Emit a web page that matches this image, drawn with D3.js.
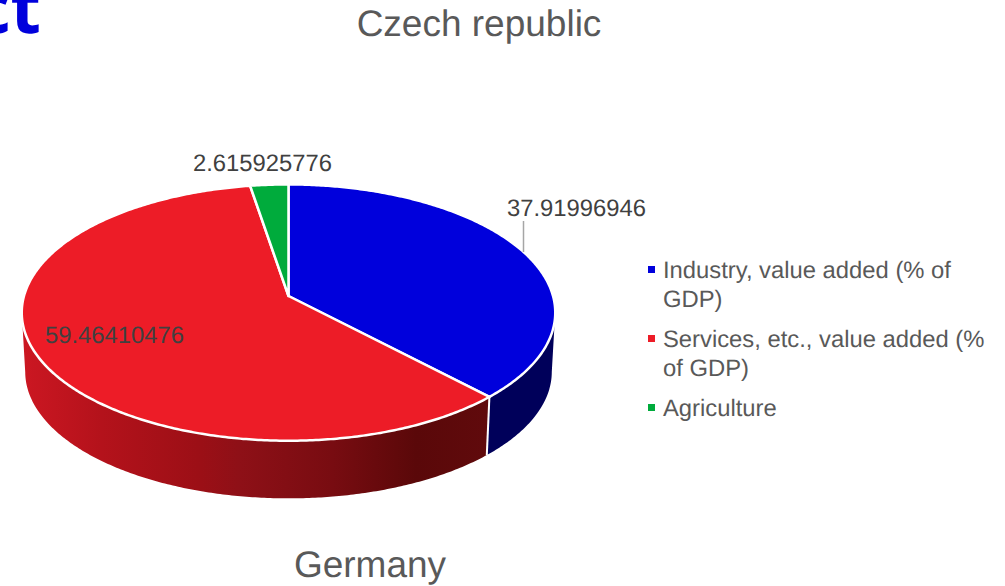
<!DOCTYPE html>
<html>
<head>
<meta charset="utf-8">
<script src="https://cdn.jsdelivr.net/npm/d3@7"></script>
<style>
	html,body{margin:0;padding:0;background:#fff;overflow:hidden}
	text{font-family:"Liberation Sans",Arial,sans-serif;text-rendering:geometricPrecision}
</style>
</head>
<body>
<div class="pie"></div>
<script>
const categories=['Industry, value added (% of GDP)','Services, etc., value added (% of GDP)','Agriculture']
const shares=[37.91996946,59.46410476,2.615925776]
const chartTitle='Czech republic'
const nextTitle='Germany'
const cutOffHeading='ct'

const width=1005,height=586
const color=d3.scaleOrdinal().domain(categories).range(['#0000dc','#ed1c27','#00ab3c'])

const svg=d3.select('.pie').append('svg')
	.attr('width',width)
	.attr('height',height)
	.style('display','block')

// tilted disc, the near side of it is drawn bigger
const disc={x:288.5,y:296,r:264.5,b:126,k:0.1295}
const wall={shrink:0.987,y:355.5}

function rimTop(a){
	const u=Math.sin(a),v=-Math.cos(a),w=1-disc.k*v
	return [disc.x+disc.r*u/w,disc.y+disc.b*v/w]
}
function rimBottom(a){
	const p=rimTop(a)
	return [disc.x+(p[0]-disc.x)*wall.shrink,wall.y+(p[1]-disc.y)*wall.shrink]
}
function arcAngles(a0,a1){
	const n=Math.max(2,Math.ceil(Math.abs(a1-a0)/0.01))
	return d3.range(n+1).map(i=>a0+(a1-a0)*i/n)
}

const pie=d3.pie().sort(null).value(d=>d.value)
const slices=pie(categories.map((c,i)=>({name:c,value:shares[i]})))
const line=d3.line()

const defs=svg.append('defs')
const grad=defs.append('linearGradient')
	.attr('id','redWall')
	.attr('gradientUnits','userSpaceOnUse')
	.attr('x1',22).attr('x2',486).attr('y1',0).attr('y2',0)
grad.append('stop').attr('offset','0%').attr('stop-color','#cc1722')
grad.append('stop').attr('offset','17%').attr('stop-color','#b4121b')
grad.append('stop').attr('offset','38%').attr('stop-color','#9c0f16')
grad.append('stop').attr('offset','47%').attr('stop-color','#8e1017')
grad.append('stop').attr('offset','67%').attr('stop-color','#780c11')
grad.append('stop').attr('offset','85%').attr('stop-color','#5a0809')
grad.append('stop').attr('offset','100%').attr('stop-color','#600a0c')

// side wall, only the front part of the disc shows it
const frontStart=Math.PI/2+0.13,frontEnd=Math.PI*1.5-0.13
const wallFill=['#00005a','url(#redWall)']
const walls=slices.slice(0,2).map((s,i)=>({
	a0:Math.max(s.startAngle,frontStart),
	a1:Math.min(s.endAngle,frontEnd),
	fill:wallFill[i]
}))

svg.selectAll('.wall')
	.data(walls)
	.enter()
	.append('path')
	.attr('class','wall')
	.attr('d',d=>{
		const angles=arcAngles(d.a0,d.a1)
		return line(angles.map(rimTop).concat(angles.slice().reverse().map(rimBottom)))+'Z'
	})
	.attr('fill',d=>d.fill)

svg.append('path')
	.attr('d',line([rimTop(slices[0].endAngle),rimBottom(slices[0].endAngle)]))
	.attr('stroke','#fff')
	.attr('stroke-width',2)

svg.selectAll('.slice')
	.data(slices)
	.enter()
	.append('path')
	.attr('class','slice')
	.attr('d',d=>line([[disc.x,disc.y]].concat(arcAngles(d.startAngle,d.endAngle).map(rimTop)))+'Z')
	.attr('fill',d=>color(d.data.name))
	.attr('stroke','#fff')
	.attr('stroke-width',2.5)
	.attr('stroke-linejoin','round')

// data labels
svg.append('line')
	.attr('x1',523.5).attr('x2',523.5)
	.attr('y1',221).attr('y2',252)
	.attr('stroke','#a6a6a6')
	.attr('stroke-width',1.5)

const labelPos=[[507,216],[45,343],[193,171]]
svg.selectAll('.label')
	.data(slices)
	.enter()
	.append('text')
	.attr('class','label')
	.attr('x',(d,i)=>labelPos[i][0])
	.attr('y',(d,i)=>labelPos[i][1])
	.attr('font-size',23.8)
	.attr('fill','#404040')
	.text(d=>d.data.value)

// legend
const legendY=[278,347,416]
const legend=svg.selectAll('.legend')
	.data(categories)
	.enter()
	.append('g')
	.attr('class','legend')
	.attr('transform',(d,i)=>`translate(0,${legendY[i]})`)

legend.append('rect')
	.attr('x',648).attr('y',-12)
	.attr('width',7).attr('height',7)
	.attr('fill',d=>color(d))

legend.append('text')
	.attr('x',663)
	.attr('font-size',23.8)
	.attr('fill','#595959')
	.each(function(d){
		const t=d3.select(this)
		let row=[],tspan=t.append('tspan').attr('x',663).attr('dy',0)
		d.split(' ').forEach(word=>{
			row.push(word)
			tspan.text(row.join(' '))
			if(tspan.node().getComputedTextLength()>330){
				row.pop()
				tspan.text(row.join(' '))
				row=[word]
				tspan=t.append('tspan').attr('x',663).attr('dy',29).text(word)
			}
		})
	})

svg.append('text')
	.attr('x',479).attr('y',36)
	.attr('text-anchor','middle')
	.attr('font-size',37)
	.attr('fill','#595959')
	.text(chartTitle)

svg.append('text')
	.attr('x',370).attr('y',577)
	.attr('text-anchor','middle')
	.attr('font-size',37)
	.attr('fill','#595959')
	.text(nextTitle)

// heading of the slide, cut by the top left corner
svg.append('text')
	.attr('x',41).attr('y',33)
	.attr('text-anchor','end')
	.attr('font-size',70)
	.attr('font-weight','bold')
	.attr('fill','#0000dc')
	.style('font-family','"Noto Sans",sans-serif')
	.text(cutOffHeading)
</script>
</body>
</html>
